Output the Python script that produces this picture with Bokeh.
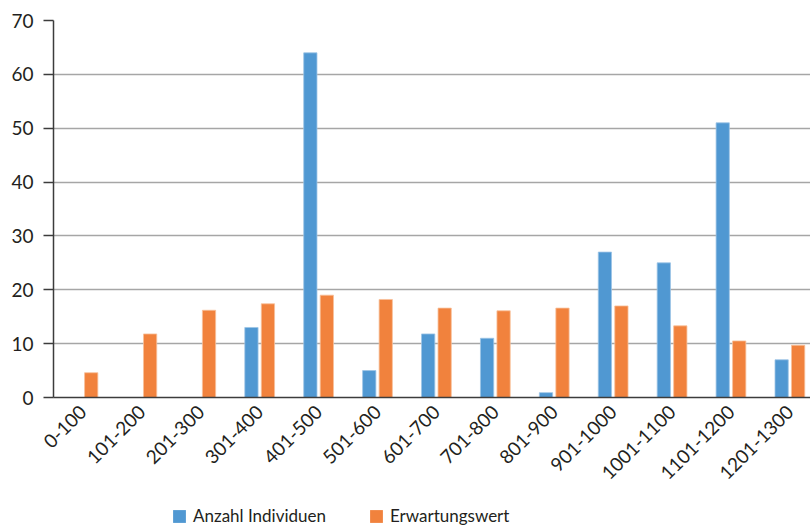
import math
from bokeh.plotting import figure
from bokeh.layouts import column
from bokeh.models import ColumnDataSource, Range1d, FixedTicker, Legend, LegendItem
from bokeh.embed import file_html
from bokeh.resources import INLINE

categories = ["0-100", "101-200", "201-300", "301-400", "401-500", "501-600", "601-700",
              "701-800", "801-900", "901-1000", "1001-1100", "1101-1200", "1201-1300"]
anzahl = [0, 0, 0, 13, 64, 5, 11.8, 11, 0.9, 27, 25, 51, 7]
erwartung = [4.6, 11.8, 16.2, 17.4, 19.0, 18.2, 16.6, 16.1, 16.6, 17.0, 13.3, 10.5, 9.7]
series_names = ["Anzahl Individuen", "Erwartungswert"]
y_ticks = [0, 10, 20, 30, 40, 50, 60, 70]

FONT = "Lato"
TXT = "#231f20"
BLUE = "#5098d2"
ORANGE = "#f1823d"

centers = [i + 0.5 for i in range(len(categories))]
src = ColumnDataSource(dict(
    xb=[c - 0.14 for c in centers],
    xo=[c + 0.14 for c in centers],
    anzahl=anzahl, erwartung=erwartung,
))

p = figure(width=810, height=500, output_backend="svg", toolbar_location=None,
           x_range=Range1d(0, 12.85), y_range=Range1d(0, 70),
           min_border_left=53, min_border_right=0, min_border_top=20, min_border_bottom=103)
p.outline_line_color = None

p.vbar(x="xb", top="anzahl", width=0.225, source=src, fill_color=BLUE,
       line_color="#9cc4e6", line_width=0.8)
p.vbar(x="xo", top="erwartung", width=0.225, source=src, fill_color=ORANGE,
       line_color="#f8c09a", line_width=0.8)

# axes
p.xaxis.ticker = FixedTicker(ticks=centers)
p.xaxis.major_label_overrides = {c: lab for c, lab in zip(centers, categories)}
p.xaxis.major_label_orientation = math.pi / 4
p.xaxis.major_tick_out = 0
p.xaxis.major_tick_in = 0
p.xaxis.minor_tick_line_color = None
p.xaxis.major_label_standoff = 11
p.xaxis.major_label_text_font = FONT
p.xaxis.major_label_text_font_size = "19px"
p.xaxis.major_label_text_color = TXT
p.xaxis.axis_line_color = "#3c3c3c"
p.xaxis.axis_line_width = 1.5

p.yaxis.ticker = FixedTicker(ticks=y_ticks)
p.yaxis.major_tick_out = 10
p.yaxis.major_tick_in = 0
p.yaxis.major_tick_line_color = "#3c3c3c"
p.yaxis.major_tick_line_width = 1.5
p.yaxis.minor_tick_line_color = None
p.yaxis.major_label_standoff = 10
p.yaxis.major_label_text_font = FONT
p.yaxis.major_label_text_font_size = "19px"
p.yaxis.major_label_text_color = TXT
p.yaxis.axis_line_color = "#3c3c3c"
p.yaxis.axis_line_width = 1.5

p.xgrid.grid_line_color = None
p.ygrid.ticker = FixedTicker(ticks=y_ticks)
p.ygrid.grid_line_color = "#a6a6a6"
p.ygrid.grid_line_width = 1.5

# legend strip below the chart
lf = figure(width=810, height=27, output_backend="svg", toolbar_location=None,
            x_range=Range1d(1000, 1001), y_range=Range1d(1000, 1001),
            x_axis_type=None, y_axis_type=None,
            min_border=0)
lf.outline_line_color = None
lf.xgrid.grid_line_color = None
lf.ygrid.grid_line_color = None
lb = lf.vbar(x="xb", top="anzahl", width=0.225, source=src, fill_color=BLUE, line_color=None)
lo = lf.vbar(x="xo", top="erwartung", width=0.225, source=src, fill_color=ORANGE, line_color=None)
legend = Legend(items=[LegendItem(label=series_names[0], renderers=[lb]),
                       LegendItem(label=series_names[1], renderers=[lo])],
                orientation="horizontal", location=(118, 1),
                glyph_width=16, glyph_height=16, label_standoff=6, spacing=42,
                padding=0, margin=0, border_line_color=None, background_fill_alpha=0,
                label_text_font=FONT, label_text_font_size="17px", label_text_color=TXT)
lf.add_layout(legend, "center")

open("out.html", "w").write(file_html(column(p, lf, spacing=0), INLINE))
